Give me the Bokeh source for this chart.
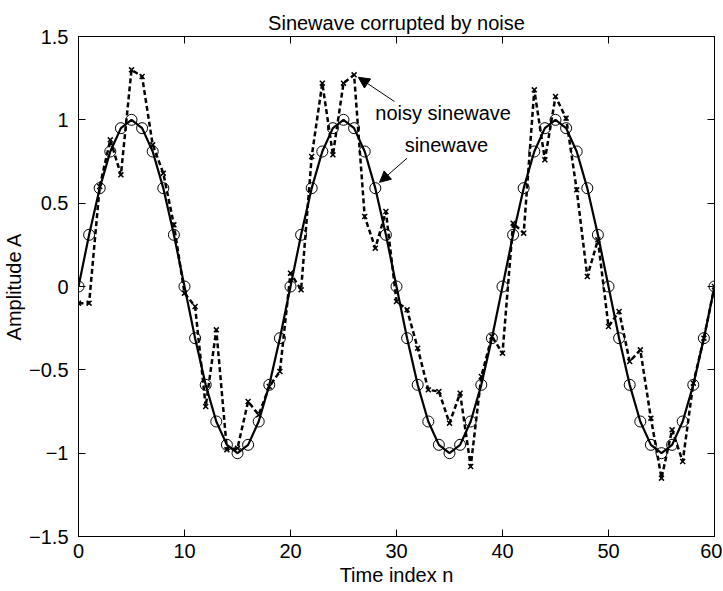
from bokeh.plotting import figure
from bokeh.models import (Range1d, LinearAxis, FixedTicker, Arrow, NormalHead,
                          Label, ColumnDataSource)
from bokeh.embed import file_html
from bokeh.resources import INLINE

# ---- data ----
n = list(range(61))
sinewave = [0.00, 0.31, 0.59, 0.81, 0.95, 1.00, 0.95, 0.81, 0.59, 0.31,
            0.00, -0.31, -0.59, -0.81, -0.95, -1.00, -0.95, -0.81, -0.59, -0.31,
            0.00, 0.31, 0.59, 0.81, 0.95, 1.00, 0.95, 0.81, 0.59, 0.31,
            0.00, -0.31, -0.59, -0.81, -0.95, -1.00, -0.95, -0.81, -0.59, -0.31,
            0.00, 0.31, 0.59, 0.81, 0.95, 1.00, 0.95, 0.81, 0.59, 0.31,
            0.00, -0.31, -0.59, -0.81, -0.95, -1.00, -0.95, -0.81, -0.59, -0.31,
            0.00]
noisy = [-0.10, -0.10, 0.60, 0.88, 0.67, 1.30, 1.26, 0.85, 0.68, 0.37,
         -0.04, -0.12, -0.72, -0.26, -0.98, -0.97, -0.69, -0.77, -0.60, -0.51,
         0.08, -0.02, 0.78, 1.22, 0.79, 1.22, 1.27, 0.42, 0.23, 0.45,
         -0.09, -0.14, -0.37, -0.62, -0.63, -0.82, -0.64, -1.08, -0.54, -0.30,
         -0.40, 0.38, 0.32, 1.18, 0.76, 1.14, 1.01, 0.58, 0.06, 0.28,
         -0.24, -0.15, -0.45, -0.38, -0.79, -1.15, -0.86, -1.05, -0.58, -0.31,
         0.00]
x_ticks = [0, 10, 20, 30, 40, 50, 60]
y_ticks = [-1.5, -1, -0.5, 0, 0.5, 1, 1.5]
y_tick_labels = ["\u22121.5", "\u22121", "\u22120.5", "0", "0.5", "1", "1.5"]

title_text = "Sinewave corrupted by noise"
x_label = "Time index n"
y_label = "Amplitude A"
label_noisy = "noisy sinewave"
label_sine = "sinewave"

FONT = "Liberation Sans"
FS = "20px"

src = ColumnDataSource(dict(n=n, s=sinewave, w=noisy))

p = figure(frame_width=636, frame_height=500, output_backend="svg",
           toolbar_location=None,
           x_range=Range1d(0, 60), y_range=Range1d(-1.5, 1.5),
           min_border_left=77, min_border_right=8, min_border_top=36,
           min_border_bottom=50, background_fill_color="white",
           border_fill_color="white")
p.title.text = title_text
p.title.align = "center"
p.title.text_font = FONT
p.title.text_font_size = FS
p.title.text_font_style = "normal"
p.title.text_color = "black"
p.title.standoff = 5

p.grid.visible = False
p.outline_line_color = "black"
p.outline_line_width = 1

def style_axis(ax):
    ax.major_tick_in = 7
    ax.major_tick_out = 0
    ax.minor_tick_in = 0
    ax.minor_tick_out = 0
    ax.axis_line_color = "black"
    ax.major_tick_line_color = "black"
    ax.major_label_text_font = FONT
    ax.major_label_text_font_size = FS
    ax.major_label_text_color = "black"
    ax.axis_label_text_font = FONT
    ax.axis_label_text_font_size = FS
    ax.axis_label_text_font_style = "normal"
    ax.axis_label_text_color = "black"

xa = p.xaxis[0]
ya = p.yaxis[0]
xa.ticker = FixedTicker(ticks=x_ticks)
ya.ticker = FixedTicker(ticks=y_ticks)
ya.major_label_overrides = {t: l for t, l in zip(y_ticks, y_tick_labels)}
style_axis(xa)
style_axis(ya)
xa.axis_label = x_label
ya.axis_label = y_label
xa.major_label_standoff = 7
xa.axis_label_standoff = 3
ya.major_label_standoff = 10
ya.axis_label_standoff = 1

top = LinearAxis(ticker=FixedTicker(ticks=x_ticks))
right = LinearAxis(ticker=FixedTicker(ticks=y_ticks))
style_axis(top)
style_axis(right)
top.major_label_overrides = {t: "" for t in x_ticks}
right.major_label_overrides = {t: "" for t in y_ticks}
top.major_label_standoff = 0
right.major_label_standoff = 0
p.add_layout(top, "above")
p.add_layout(right, "right")

# sinewave
p.line("n", "s", source=src, line_color="black", line_width=2.2)
p.scatter("n", "s", source=src, marker="circle", size=11, fill_color=None,
          line_color="black", line_width=1)
# noisy sinewave
p.line("n", "w", source=src, line_color="black", line_width=2.5, line_dash="5 3")
p.scatter("n", "w", source=src, marker="x", size=7, line_color="black",
          line_width=1.5)

# annotations
p.add_layout(Arrow(end=NormalHead(size=11, fill_color="black", line_color="black"),
                   x_start=29.8, y_start=1.11, x_end=26.4, y_end=1.255,
                   line_color="black", line_width=1))
p.add_layout(Arrow(end=NormalHead(size=11, fill_color="black", line_color="black"),
                   x_start=31.0, y_start=0.77, x_end=28.4, y_end=0.625,
                   line_color="black", line_width=1))
p.add_layout(Label(x=34.4, y=1.04, text=label_noisy, text_align="center",
                   text_baseline="middle", text_font=FONT, text_font_size=FS,
                   text_color="black"))
p.add_layout(Label(x=34.7, y=0.85, text=label_sine, text_align="center",
                   text_baseline="middle", text_font=FONT, text_font_size=FS,
                   text_color="black"))

open("out.html", "w").write(file_html(p, INLINE))
